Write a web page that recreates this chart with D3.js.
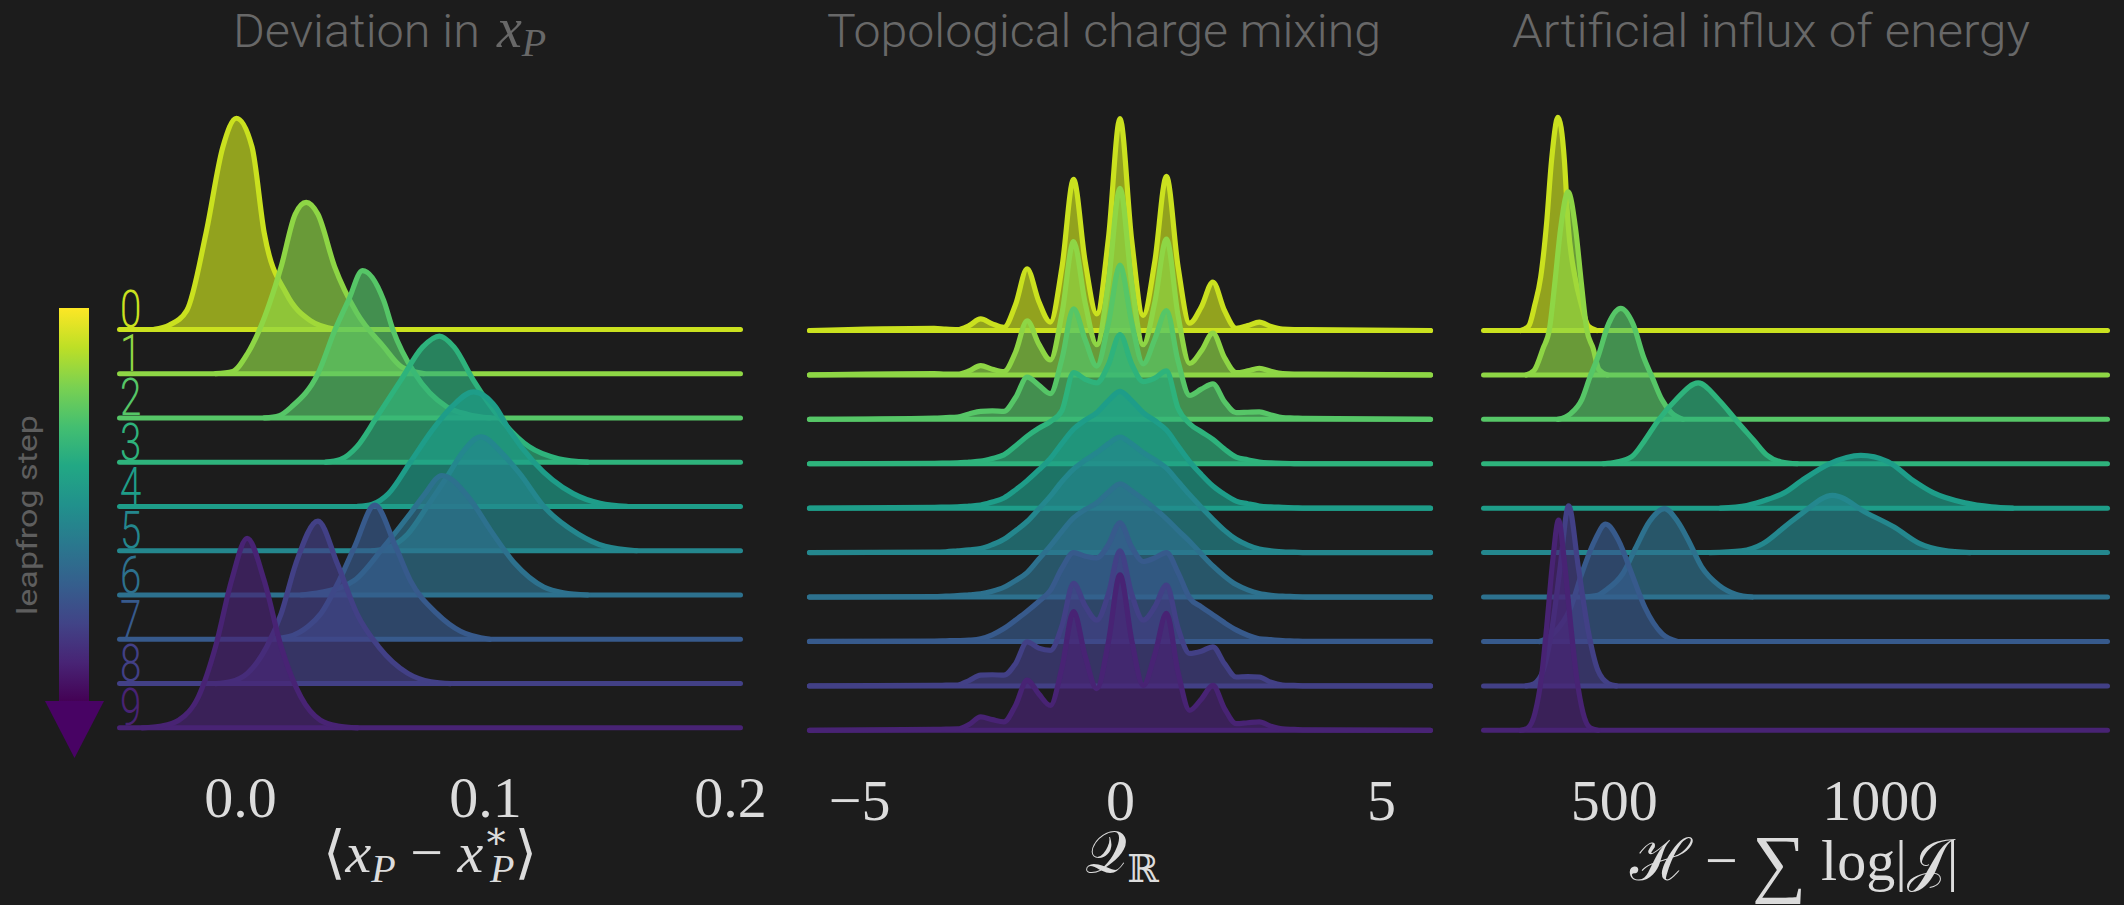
<!DOCTYPE html>
<html>
<head>
<meta charset="utf-8">
<script src="https://cdn.jsdelivr.net/npm/d3@7"></script>
<style>
  body { margin: 0; background: #1c1c1c; }
  svg { display: block; }
</style>
</head>
<body>
<svg id="chart" width="2124" height="905"></svg>
<script>
// ---- data ----
// leapfrog steps, top to bottom
const stepLabels = ['0', '1', '2', '3', '4', '5', '6', '7', '8', '9'];

// Deviation in x_P : [value, density] knots, density in units of row spacing
const devRows = [
  [[-0.035,0],[-0.0288,0.1],[-0.0217,0.43],[-0.0139,2.17],[-0.007,4.12],[-0.0015,4.77],[0.0049,4.12],[0.0099,2.17],[0.0189,0.81],[0.0287,0.2],[0.039,0]],
  [[-0.01,0],[-0.003,0.05],[0.003,0.45],[0.008,1.0],[0.0168,2.42],[0.0225,3.6],[0.027,3.87],[0.0318,3.6],[0.0386,2.42],[0.0477,1.37],[0.0586,0.61],[0.066,0.15],[0.075,0]],
  [[0.01,0],[0.016,0.05],[0.021,0.25],[0.0318,1.0],[0.0387,1.98],[0.0443,2.66],[0.050,3.33],[0.0586,2.66],[0.0625,1.98],[0.0714,1.0],[0.0844,0.25],[0.093,0.08],[0.102,0]],
  [[0.035,0],[0.041,0.06],[0.0477,0.35],[0.0556,1.0],[0.0656,1.85],[0.0745,2.6],[0.0814,2.85],[0.0874,2.6],[0.0953,1.85],[0.106,1.0],[0.118,0.35],[0.13,0.08],[0.142,0]],
  [[0.048,0],[0.054,0.05],[0.0606,0.29],[0.0695,1.0],[0.0784,1.72],[0.0864,2.25],[0.0953,2.59],[0.1043,2.25],[0.110,1.72],[0.120,1.0],[0.136,0.29],[0.147,0.07],[0.158,0]],
  [[0.054,0],[0.06,0.06],[0.0685,0.38],[0.0764,1.0],[0.0853,1.74],[0.0904,2.19],[0.0984,2.57],[0.1072,2.19],[0.1142,1.74],[0.124,1.0],[0.138,0.38],[0.149,0.1],[0.162,0]],
  [[0.025,0],[0.033,0.06],[0.0467,0.33],[0.0586,1.08],[0.0695,1.84],[0.075,2.25],[0.0824,2.70],[0.0934,2.2],[0.1023,1.46],[0.1122,0.71],[0.124,0.18],[0.132,0.05],[0.142,0]],
  [[0.012,0],[0.02,0.06],[0.028,0.3],[0.033,0.58],[0.0405,1.33],[0.0467,2.08],[0.055,3.03],[0.0636,2.08],[0.0695,1.33],[0.0804,0.58],[0.09,0.18],[0.102,0]],
  [[-0.01,0],[-0.004,0.04],[0.003,0.23],[0.0109,0.83],[0.0168,1.58],[0.0228,2.71],[0.0318,3.67],[0.0397,2.71],[0.0477,1.58],[0.0566,0.83],[0.0685,0.23],[0.078,0.04],[0.086,0]],
  [[-0.04,0],[-0.032,0.04],[-0.025,0.17],[-0.017,0.70],[-0.010,1.83],[-0.0034,3.34],[0.0029,4.28],[0.0098,3.34],[0.0168,1.83],[0.0248,0.70],[0.0328,0.17],[0.04,0.04],[0.048,0]]
];

// Topological charge: density on a fixed charge grid
const qGrid = [-3.56, -3.3375, -3.115, -2.8925, -2.67, -2.4475, -2.225, -2.0025, -1.78, -1.5575, -1.335, -1.1125,
  -0.89, -0.6675, -0.445, -0.2225, 0, 0.2225, 0.445, 0.6675, 0.89, 1.1125, 1.335, 1.5575,
  1.78, 2.0025, 2.225, 2.4475, 2.67, 2.8925, 3.115, 3.3375, 3.56];
const qRows = [
  [0.05, 0.03, 0.02, 0.11, 0.26, 0.15, 0.07, 0.58, 1.39, 0.66, 0.19, 1.42, 3.40, 1.55, 0.375, 2.07, 4.77, 2.05, 0.34, 1.56, 3.47, 1.44, 0.165, 0.53, 1.09, 0.45, 0.05, 0.11, 0.19, 0.09, 0.03, 0.02, 0.02],
  [0.03, 0.02, 0.02, 0.09, 0.21, 0.13, 0.075, 0.51, 1.22, 0.70, 0.34, 1.38, 3.00, 1.62, 0.68, 2.08, 4.20, 2.08, 0.68, 1.64, 3.06, 1.34, 0.26, 0.54, 0.94, 0.39, 0.05, 0.09, 0.15, 0.08, 0.03, 0.02, 0.02],
  [0.03, 0.04, 0.05, 0.12, 0.18, 0.19, 0.18, 0.49, 0.95, 0.77, 0.58, 1.36, 2.49, 1.79, 1.2, 2.16, 3.47, 2.19, 1.25, 1.81, 2.45, 1.31, 0.54, 0.68, 0.80, 0.40, 0.15, 0.16, 0.17, 0.10, 0.04, 0.03, 0.02],
  [0.01, 0.015, 0.02, 0.04, 0.06, 0.12, 0.2, 0.4, 0.62, 0.8, 0.95, 1.2, 2.05, 1.9, 1.82, 2.23, 2.91, 2.25, 1.85, 1.93, 2.09, 1.25, 0.9, 0.72, 0.55, 0.33, 0.15, 0.09, 0.04, 0.02, 0.01, 0.005, 0.0],
  [0.02, 0.025, 0.03, 0.05, 0.07, 0.14, 0.23, 0.41, 0.62, 0.86, 1.12, 1.46, 1.78, 1.98, 2.15, 2.42, 2.63, 2.42, 2.15, 1.97, 1.76, 1.4, 1.05, 0.76, 0.5, 0.31, 0.16, 0.1, 0.05, 0.03, 0.02, 0.01, 0.0],
  [0.01, 0.02, 0.04, 0.06, 0.09, 0.18, 0.3, 0.49, 0.7, 0.98, 1.27, 1.6, 1.88, 2.08, 2.25, 2.45, 2.6, 2.45, 2.25, 2.09, 1.9, 1.6, 1.3, 1.02, 0.75, 0.5, 0.3, 0.17, 0.08, 0.04, 0.02, 0.01, 0.0],
  [0.01, 0.02, 0.03, 0.05, 0.07, 0.13, 0.22, 0.37, 0.55, 0.85, 1.15, 1.48, 1.78, 1.97, 2.12, 2.36, 2.55, 2.39, 2.2, 1.99, 1.76, 1.5, 1.25, 0.97, 0.7, 0.47, 0.28, 0.16, 0.08, 0.04, 0.02, 0.01, 0.0],
  [0.01, 0.015, 0.02, 0.03, 0.06, 0.15, 0.29, 0.48, 0.68, 0.9, 1.15, 1.65, 2.0, 1.92, 1.88, 2.18, 2.67, 2.13, 1.8, 1.88, 2.0, 1.55, 0.98, 0.78, 0.6, 0.42, 0.26, 0.14, 0.06, 0.04, 0.02, 0.01, 0.0],
  [0.01, 0.015, 0.02, 0.12, 0.24, 0.25, 0.24, 0.5, 0.99, 0.85, 0.8, 1.35, 2.31, 1.8, 1.48, 2.07, 3.04, 2.07, 1.48, 1.78, 2.27, 1.3, 0.73, 0.78, 0.88, 0.5, 0.2, 0.21, 0.2, 0.08, 0.02, 0.01, 0.0],
  [0.02, 0.025, 0.03, 0.13, 0.3, 0.24, 0.19, 0.56, 1.13, 0.82, 0.56, 1.41, 2.67, 1.67, 0.94, 1.99, 3.5, 2.04, 1.01, 1.71, 2.63, 1.31, 0.45, 0.70, 1.01, 0.49, 0.15, 0.17, 0.19, 0.09, 0.03, 0.02, 0.01]
];

// Artificial influx of energy: [value, density] knots
const energyRows = [
  [[325,0],[340,0.1],[351.5,0.58],[362.5,1.2],[373.5,2.4],[383,3.84],[395,4.8],[407,3.84],[414,2.4],[427,1.2],[439,0.58],[452,0.1],[468,0]],
  [[335,0],[350,0.1],[367,0.6],[379,1.03],[389,2.06],[400,3.3],[414,4.12],[428,3.3],[439,2.06],[449,1.03],[461,0.6],[472,0.12],[488,0]],
  [[395,0],[419,0.13],[440,0.45],[455,0.95],[470,1.4],[490,2.15],[513,2.5],[536,2.15],[556,1.4],[572,0.95],[590,0.45],[608,0.15],[630,0]],
  [[480,0],[505,0.04],[533.8,0.16],[558.3,0.53],[583,0.97],[615.8,1.43],[658.5,1.82],[697.7,1.43],[730.6,0.97],[763,0.53],[788,0.19],[815,0.04],[845,0]],
  [[700,0],[750,0.06],[790,0.2],[821,0.35],[853,0.62],[905,1.0],[964.3,1.19],[1015,1.05],[1063,0.62],[1100,0.35],[1160,0.12],[1210,0.03],[1250,0]],
  [[680,0],[740,0.04],[780,0.2],[821,0.58],[853,0.88],[911,1.29],[977,0.88],[1026,0.58],[1075,0.2],[1120,0.05],[1170,0]],
  [[440,0],[470,0.04],[484.6,0.15],[517,0.53],[542,1.13],[567,1.7],[595.3,1.99],[620,1.7],[640,1.28],[665,0.68],[698,0.26],[730,0.06],[760,0]],
  [[360,0],[386,0.17],[419,0.77],[439.5,1.52],[464,2.27],[484.6,2.64],[509,2.27],[533.8,1.52],[558.3,0.77],[591,0.17],[620,0]],
  [[335,0],[350,0.05],[367,0.35],[383,1.23],[398.5,2.61],[415,4.05],[434,2.61],[452,1.23],[470,0.35],[490,0.05],[505,0]],
  [[325,0],[338,0.05],[352,0.4],[364,1.2],[374,2.36],[385,3.8],[396,4.73],[407,3.8],[419,2.36],[430,1.2],[442,0.4],[456,0.05],[470,0]]
];

// tick labels
const devTicks = [0, 0.1, 0.2];
const qTicks = [-5, 0, 5];
const energyTicks = [500, 1000];

// ---- drawing ----
const svg = d3.select('#chart');
svg.append('rect').attr('width', 2124).attr('height', 905).attr('fill', '#1c1c1c');

const sansFont = "Roboto, 'Open Sans', sans-serif";
const serifFont = "'Liberation Serif', 'DejaVu Serif', serif";
const rowColor = i => d3.interpolateViridis(0.92 - 0.0915 * i);

const panels = [
  { rows: devRows, domain: [-0.0492, 0.2043], range: [119.5, 740.5], top: 329.4, bottom: 727.8,
    ticks: devTicks, fmt: d3.format('.1f'), tickY: 776 },
  { rows: qRows.map(r => [[-5.95, 0]].concat(qGrid.map((q, k) => [q, r[k]]), [[5.95, 0]])),
    domain: [-5.95, 5.95], range: [809.5, 1430.5], top: 330.5, bottom: 730.3,
    ticks: qTicks, fmt: d3.format('d'), tickY: 779 },
  { rows: energyRows, domain: [255, 1428], range: [1483.5, 2107.5], top: 330.5, bottom: 730.3,
    ticks: energyTicks, fmt: d3.format('d'), tickY: 779 }
];

panels.forEach(p => {
  const x = d3.scaleLinear().domain(p.domain).range(p.range);
  const y = d3.scaleLinear().domain([0, 9]).range([p.top, p.bottom]);
  const h = d3.scaleLinear().domain([0, 1]).range([0, (p.bottom - p.top) / 9]);
  const g = svg.append('g');

  p.rows.forEach((knots, i) => {
    const base = y(i);
    const c = rowColor(i);
    const area = d3.area()
      .x(d => x(d[0]))
      .y0(base)
      .y1(d => base - h(d[1]))
      .curve(d3.curveMonotoneX);
    const line = d3.line()
      .x(d => x(d[0]))
      .y(d => base - h(d[1]))
      .curve(d3.curveMonotoneX);

    g.append('path').attr('d', area(knots))
      .attr('fill', c).attr('fill-opacity', 0.68);
    g.append('line')
      .attr('x1', p.range[0]).attr('x2', p.range[1])
      .attr('y1', base).attr('y2', base)
      .attr('stroke', c).attr('stroke-width', 5).attr('stroke-linecap', 'round');
    g.append('path').attr('d', line(knots))
      .attr('fill', 'none').attr('stroke', c).attr('stroke-width', 5.2)
      .attr('stroke-linejoin', 'round').attr('stroke-linecap', 'round');
  });

  // x axis, labels only
  const axis = svg.append('g')
    .attr('transform', `translate(0,${p.tickY})`)
    .call(d3.axisBottom(x).tickValues(p.ticks).tickFormat(p.fmt).tickSize(0).tickPadding(0));
  axis.select('.domain').remove();
  axis.selectAll('text')
    .attr('fill', '#dcdcdc')
    .style('font-family', serifFont)
    .style('font-size', '58px');
});

// row labels along the first panel
const y0 = d3.scaleLinear().domain([0, 9]).range([panels[0].top, panels[0].bottom]);
stepLabels.forEach((s, i) => {
  svg.append('text')
    .attr('transform', `translate(120,${y0(i) - 2.5}) scale(0.74,1)`)
    .attr('fill', rowColor(i))
    .style('font-family', sansFont)
    .style('font-weight', 300)
    .style('font-size', '52px')
    .text(s);
});

// colour bar arrow
const grad = svg.append('defs').append('linearGradient')
  .attr('id', 'vir').attr('x1', 0).attr('x2', 0).attr('y1', 0).attr('y2', 1);
d3.range(0, 1.0001, 0.1).forEach(t => {
  grad.append('stop').attr('offset', t).attr('stop-color', d3.interpolateViridis(1 - t));
});
svg.append('rect').attr('x', 59).attr('y', 308).attr('width', 30).attr('height', 394)
  .attr('fill', 'url(#vir)');
svg.append('path').attr('d', 'M45,701 L104,701 L74.5,758 Z').attr('fill', '#480364');

svg.append('text')
  .attr('transform', 'translate(37,515) rotate(-90)')
  .attr('text-anchor', 'middle')
  .attr('fill', '#5e5e5e')
  .attr('textLength', 200)
  .attr('lengthAdjust', 'spacingAndGlyphs')
  .style('font-family', sansFont)
  .style('font-size', '28px')
  .text('leapfrog step');

// titles
function title(txt, x0, len) {
  return svg.append('text')
    .attr('x', x0).attr('y', 47)
    .attr('fill', '#686868')
    .attr('textLength', len)
    .attr('lengthAdjust', 'spacingAndGlyphs')
    .style('font-family', sansFont)
    .style('font-weight', 300)
    .style('font-size', '46px')
    .text(txt);
}
title('Deviation in', 233, 247);
const tm = svg.append('text').attr('x', 497).attr('y', 47).attr('fill', '#686868')
  .style('font-family', serifFont).style('font-style', 'italic');
tm.append('tspan').style('font-size', '56px').text('x');
tm.append('tspan').style('font-size', '40px').attr('dy', 9).text('P');
title('Topological charge mixing', 827, 554);
title('Artificial influx of energy', 1512, 518);

// axis labels
const labColor = '#dcdcdc';
function mathText(xc, yb) {
  return svg.append('text').attr('x', xc).attr('y', yb).attr('text-anchor', 'middle')
    .attr('fill', labColor).style('font-family', serifFont).style('font-size', '58px');
}
const l1 = mathText(430, 872);
l1.append('tspan').text('⟨');
l1.append('tspan').style('font-style', 'italic').text('x');
l1.append('tspan').style('font-style', 'italic').style('font-size', '40px').attr('dy', 10).text('P');
l1.append('tspan').attr('dy', -10).text(' − ');
l1.append('tspan').style('font-style', 'italic').text('x');
l1.append('tspan').style('font-size', '38px').attr('dy', -24).text('∗');
l1.append('tspan').style('font-style', 'italic').style('font-size', '40px').attr('dx', -19).attr('dy', 34).text('P');
l1.append('tspan').attr('dy', -10).text('⟩');

const l2 = mathText(1122, 872);
l2.append('tspan').text('𝒬');
l2.append('tspan').style('font-size', '38px').attr('dy', 10).text('ℝ');

const l3 = mathText(1794, 880);
l3.append('tspan').text('ℋ − ');
l3.append('tspan').style('font-size', '76px').attr('dy', 8).text('∑');
l3.append('tspan').attr('dy', -8).text(' log|');
l3.append('tspan').text('𝒥');
l3.append('tspan').text('|');
</script>
</body>
</html>
